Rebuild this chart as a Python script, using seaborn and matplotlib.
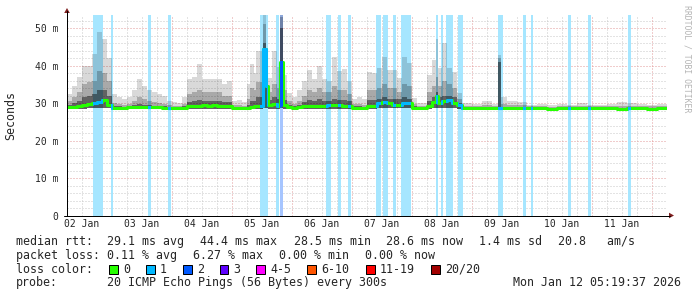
import matplotlib
matplotlib.use("Agg")
import matplotlib.pyplot as plt
from matplotlib.patches import Rectangle, Polygon
from matplotlib.lines import Line2D
import numpy as np
import pandas as pd
import seaborn as sns

# ---------------- data (time in hours since Jan 02 06:00, values in ms) ----------------
seg_start_h = [
    0, 2, 4, 6, 8, 10, 12, 14, 16, 18,
    20, 22, 24, 26, 28, 30, 32, 34, 36, 38,
    40, 42, 44, 46, 48, 50, 52, 54, 56, 58,
    60, 62, 64, 66, 68, 70, 72, 73.3, 74.7, 75.6,
    78.2, 79.4, 80.2, 82, 84, 85.2, 86.3, 88, 90, 92,
    94, 96, 98, 100, 102, 104, 106, 108, 110, 112,
    114, 116, 118, 120, 122, 124, 126, 128, 130, 132,
    134, 136, 138, 140, 144, 146, 147.5, 148.5, 150, 152,
    154, 156, 158, 162, 166, 170, 172.4, 173.7, 176, 180,
    184, 188, 192, 196, 200, 204, 208, 212, 216, 220,
    224, 228, 232, 236]
smoke_max = [
    32.5, 34.5, 37.0, 40.0, 40.0, 43.0, 49.0, 47.0, 42.0, 32.5,
    31.5, 31.0, 31.5, 33.5, 36.5, 34.5, 33.5, 33.0, 32.5, 31.8,
    30.5, 30.2, 30.0, 31.5, 36.5, 37.0, 40.5, 36.5, 36.5, 36.5,
    36.5, 35.0, 36.0, 30.5, 30.8, 30.2, 35.0, 40.5, 38.0, 44.0,
    57.0, 42.0, 36.6, 44.0, 39.5, 57.0, 37.5, 32.6, 31.5, 33.5,
    36.0, 38.8, 36.5, 40.0, 36.5, 36.0, 42.3, 38.5, 39.0, 36.0,
    31.0, 31.5, 31.0, 38.4, 38.0, 39.3, 42.4, 38.8, 38.8, 36.6,
    42.4, 40.6, 31.3, 30.0, 37.4, 41.5, 47.2, 39.3, 46.0, 39.3,
    38.4, 32.6, 30.0, 29.8, 30.6, 29.8, 42.8, 31.7, 30.5, 30.4,
    29.6, 29.8, 29.5, 29.8, 29.6, 29.9, 29.6, 29.6, 29.7, 30.2,
    30.0, 29.8, 29.6, 29.8]
smoke_mid = [
    30.5, 31.5, 33.0, 35.0, 35.5, 36.0, 38.5, 38.0, 36.0, 30.0,
    29.8, 29.6, 29.8, 30.5, 31.5, 31.0, 30.5, 30.3, 30.0, 29.8,
    29.4, 29.3, 29.2, 29.8, 32.5, 33.0, 33.5, 33.0, 33.0, 33.0,
    33.0, 32.0, 32.0, 29.4, 29.5, 29.3, 31.0, 34.0, 33.5, 35.5,
    51.0, 38.0, 33.0, 35.0, 34.0, 53.0, 33.5, 30.5, 29.8, 30.5,
    32.0, 33.5, 33.0, 34.0, 33.0, 33.0, 34.5, 33.5, 33.5, 32.5,
    29.8, 29.8, 29.6, 33.5, 33.5, 34.0, 35.0, 34.0, 34.0, 33.0,
    35.0, 34.5, 29.8, 29.3, 33.0, 34.5, 37.0, 34.5, 36.0, 35.0,
    34.0, 31.0, 29.3, 29.2, 29.4, 29.2, 42.0, 29.8, 29.4, 29.4,
    29.1, 29.2, 29.0, 29.2, 29.1, 29.2, 29.1, 29.1, 29.1, 29.3,
    29.2, 29.2, 29.1, 29.1]
smoke_dark = [
    29.6, 30.0, 30.5, 31.5, 32.0, 32.5, 33.5, 33.5, 32.0, 29.2,
    29.1, 29.0, 29.1, 29.4, 29.8, 29.6, 29.4, 29.3, 29.2, 29.1,
    29.0, 28.9, 28.9, 29.1, 30.3, 30.5, 30.8, 30.6, 30.6, 30.6,
    30.5, 30.2, 30.2, 29.0, 29.0, 28.9, 29.5, 30.5, 30.5, 31.5,
    46.0, 36.0, 30.8, 31.5, 31.0, 50.0, 30.8, 29.4, 29.1, 29.5,
    30.2, 30.8, 30.5, 31.0, 30.6, 30.6, 31.0, 30.8, 30.8, 30.5,
    29.1, 29.1, 29.0, 30.8, 30.8, 31.2, 31.5, 31.2, 31.2, 31.0,
    31.5, 31.2, 29.1, 28.9, 30.5, 31.5, 33.0, 31.5, 32.0, 32.0,
    31.5, 30.0, 28.9, 28.9, 28.9, 28.9, 41.0, 29.0, 28.9, 28.9,
    28.8, 28.8, 28.7, 28.8, 28.8, 28.8, 28.8, 28.8, 28.8, 28.8,
    28.8, 28.8, 28.8, 28.8]
smoke_min = [
    28.4, 28.4, 28.4, 28.5, 28.6, 28.7, 28.8, 28.8, 28.6, 28.4,
    28.4, 28.4, 28.4, 28.4, 28.4, 28.4, 28.4, 28.4, 28.4, 28.4,
    28.4, 28.4, 28.4, 28.4, 28.5, 28.5, 28.5, 28.5, 28.5, 28.5,
    28.5, 28.5, 28.5, 28.4, 28.4, 28.4, 28.4, 28.5, 28.5, 28.5,
    28.6, 28.6, 28.5, 28.5, 28.5, 28.6, 28.5, 28.4, 28.4, 28.4,
    28.4, 28.5, 28.5, 28.5, 28.5, 28.5, 28.5, 28.5, 28.5, 28.5,
    28.4, 28.4, 28.4, 28.5, 28.5, 28.6, 28.6, 28.6, 28.6, 28.6,
    28.6, 28.6, 28.4, 28.4, 28.5, 28.6, 28.7, 28.6, 28.7, 28.7,
    28.6, 28.5, 28.4, 28.4, 28.4, 28.4, 28.4, 28.4, 28.3, 28.3,
    28.3, 28.3, 28.2, 28.3, 28.3, 28.3, 28.3, 28.3, 28.3, 28.2,
    28.3, 28.3, 28.3, 28.3]
median_ms = [
    29.0, 29.0, 29.1, 29.4, 29.7, 30.0, 30.2, 30.9, 29.5, 28.8,
    28.8, 28.8, 28.9, 28.9, 29.0, 29.0, 28.9, 28.9, 28.9, 28.8,
    28.8, 28.7, 28.7, 28.8, 29.1, 29.2, 29.3, 29.4, 29.3, 29.4,
    29.3, 29.2, 29.2, 28.7, 28.7, 28.7, 28.8, 29.0, 29.1, 29.3,
    44.4, 34.5, 29.4, 29.8, 29.3, 41.0, 29.6, 29.0, 28.7, 28.9,
    29.1, 29.2, 29.2, 29.3, 29.3, 29.5, 29.6, 29.5, 29.3, 29.2,
    28.8, 28.7, 28.7, 29.1, 29.2, 29.9, 30.4, 30.0, 29.6, 29.5,
    30.0, 29.9, 28.8, 28.7, 29.3, 30.4, 31.8, 29.9, 30.6, 30.8,
    29.9, 29.4, 28.7, 28.7, 28.7, 28.7, 28.8, 28.7, 28.6, 28.6,
    28.6, 28.6, 28.5, 28.6, 28.6, 28.6, 28.6, 28.6, 28.6, 28.5,
    28.6, 28.6, 28.5, 28.6]
T_END = 240

loss_start_h = [10.4, 17.6, 32.4, 40.4, 77.3, 83.7, 85.2, 103.6, 108.3, 112.3,
                123.6, 126.4, 130.4, 133.6, 147.6, 149.6, 151.6, 156.4, 172.4,
                182.4, 185.6, 200.4, 208.4, 224.4]
loss_end_h = [14.4, 18.4, 33.6, 41.6, 80.3, 84.7, 86.3, 105.6, 109.6, 113.6,
              125.6, 128.4, 131.6, 137.6, 148.4, 150.4, 154.4, 158.4, 174.4,
              183.6, 186.4, 201.6, 209.6, 225.6]
loss_level = [1, 1, 1, 1, 1, 1, 2, 1, 1, 1,
              1, 1, 1, 1, 1, 1, 1, 1, 1,
              1, 1, 1, 1, 1]

day_labels = ["02 Jan", "03 Jan", "04 Jan", "05 Jan", "06 Jan",
              "07 Jan", "08 Jan", "09 Jan", "10 Jan", "11 Jan"]
day_label_h = [6, 30, 54, 78, 102, 126, 150, 174, 198, 222]
midnight_h = [18, 42, 66, 90, 114, 138, 162, 186, 210, 234]
y_ticks = [0, 10, 20, 30, 40, 50]
y_tick_labels = ["0", "10 m", "20 m", "30 m", "40 m", "50 m"]
Y_TOP = 53.5

legend_labels = ["0", "1", "2", "3", "4-5", "6-10", "11-19", "20/20"]
legend_colors = ["#26ff00", "#00b8ff", "#0059ff", "#5e00ff",
                 "#ff00ff", "#ff5500", "#ff0000", "#a10000"]
loss_bg = {1: "#a6e6ff", 2: "#a6c5ff"}

stats1 = ["median rtt:  29.1 ms avg", "44.4 ms max", "28.5 ms min",
          "28.6 ms now", "1.4 ms sd", "20.8   am/s"]
stats2 = ["packet loss: 0.11 % avg", "6.27 % max", "0.00 % min", "0.00 % now"]
probe_text = "20 ICMP Echo Pings (56 Bytes) every 300s"
stamp_text = "Mon Jan 12 05:19:37 2026"

# ---------------- style ----------------
sns.set_style("white")
plt.rcParams['font.family'] = ['DejaVu Sans Mono']

W, H = 697, 297
fig = plt.figure(figsize=(W / 100, H / 100), dpi=100)
fig.patch.set_facecolor("white")


def fx(px):
    return px / W


def fy(py):
    return 1 - py / H


PX = 0.72  # one pixel in points
GRID_MINOR = "#c8c8c8"
GRID_MAJOR = "#e29a9a"
X0, X1, YB, YT = 67, 667, 215.5, 15
ax = fig.add_axes([fx(X0), fy(YB), (X1 - X0) / W, (YB - YT) / H])
ax.set_xlim(0, T_END)
ax.set_ylim(0, Y_TOP)
for s in ax.spines.values():
    s.set_visible(False)
ax.set_facecolor("white")

# grid
for h in np.arange(0, T_END + 0.1, 6):
    if h in midnight_h:
        continue
    ax.axvline(h, color=GRID_MINOR, lw=PX, ls=(0, (1, 2)), zorder=1)
for h in midnight_h:
    ax.axvline(h, color=GRID_MAJOR, lw=PX, ls=(0, (1, 2)), zorder=1.1)
for v in np.arange(2, Y_TOP, 2):
    col = GRID_MAJOR if v % 10 == 0 else GRID_MINOR
    ax.axhline(v, color=col, lw=PX, ls=(0, (1, 2)), zorder=1.1 if v % 10 == 0 else 1)

# loss background bars
for s, e, lv in zip(loss_start_h, loss_end_h, loss_level):
    ax.axvspan(s, e, facecolor=loss_bg[lv], lw=0, zorder=2)

# smoke
t = np.array(seg_start_h + [T_END], dtype=float)


def ext(a):
    return np.array(a + [a[-1]], dtype=float)


lo = ext(smoke_min)
ax.fill_between(t, lo, ext(smoke_max), step="post", color="black", alpha=0.15, lw=0, zorder=3)
ax.fill_between(t, lo, ext(smoke_mid), step="post", color="black", alpha=0.22, lw=0, zorder=3.1)
ax.fill_between(t, lo, ext(smoke_dark), step="post", color="black", alpha=0.42, lw=0, zorder=3.2)

# median line
df = pd.DataFrame({"t": t, "median": ext(median_ms)})
sns.lineplot(data=df, x="t", y="median", drawstyle="steps-post", color=legend_colors[0],
             lw=2.2, estimator=None, sort=False, ax=ax, zorder=5)
for s, e, lv in zip(loss_start_h, loss_end_h, loss_level):
    ln, = ax.step(t, ext(median_ms), where="post", color=legend_colors[lv], lw=2.2, zorder=6)
    clip = Rectangle((s, -10), e - s, 100, transform=ax.transData)
    ln.set_clip_path(clip)
ax.set_xlabel("")
ax.set_ylabel("")

# ticks
ax.set_xticks(day_label_h)
ax.set_xticklabels(day_labels, fontsize=7)
ax.set_xticks(np.arange(0, T_END + 0.1, 6), minor=True)
ax.tick_params(axis="x", which="major", length=0, pad=2.5)
ax.tick_params(axis="x", which="minor", length=2, width=PX, color=GRID_MINOR)
ax.set_yticks(y_ticks)
ax.set_yticklabels(y_tick_labels, fontsize=7)
ax.set_yticks(np.arange(0, Y_TOP, 2), minor=True)
ax.tick_params(axis="y", which="major", length=2, width=PX, color=GRID_MAJOR, pad=4.3)
ax.tick_params(axis="y", which="minor", length=2, width=PX, color=GRID_MINOR)

# axis lines and arrows
fig.add_artist(Line2D([fx(67), fx(67)], [fy(YB), fy(11)], color="black", lw=PX))
fig.add_artist(Line2D([fx(64), fx(670)], [fy(YB), fy(YB)], color="black", lw=PX))
ARROW = "#7f1f1f"
fig.add_artist(Polygon([(fx(64.2), fy(13)), (fx(69.8), fy(13)), (fx(67), fy(8))],
                       closed=True, transform=fig.transFigure, color=ARROW, lw=0))
fig.add_artist(Polygon([(fx(669), fy(212.7)), (fx(669), fy(218.3)), (fx(674), fy(215.5))],
                       closed=True, transform=fig.transFigure, color=ARROW, lw=0))

# labels
FS = 8.4
fig.text(fx(11), fy(115), "Seconds", rotation=90, ha="center", va="center", fontsize=FS)
fig.text(fx(687), fy(5), "RRDTOOL / TOBI OETIKER", rotation=-90, ha="center", va="top",
         fontsize=5.9, color="#b4b4b4")

# legend / stats lines
for txt, x in zip(stats1, [16, 200, 293.5, 386, 479, 558]):
    fig.text(fx(x), fy(245), txt, fontsize=FS, va="baseline", ha="left")
for txt, x in zip(stats2, [16, 193, 279, 365]):
    fig.text(fx(x), fy(258.8), txt, fontsize=FS, va="baseline", ha="left")
fig.text(fx(16), fy(272.6), "loss color:", fontsize=FS, va="baseline", ha="left")
for lab, col, bx in zip(legend_labels, legend_colors, [109, 146, 183, 219.5, 256, 307, 366, 431]):
    fig.add_artist(Rectangle((fx(bx), fy(273.5)), 8.5 / W, 9 / H, transform=fig.transFigure,
                             facecolor=col, edgecolor="black", lw=PX))
    fig.text(fx(bx + 14), fy(272.6), lab, fontsize=FS, va="baseline", ha="left")
fig.text(fx(16), fy(286.4), "probe:", fontsize=FS, va="baseline", ha="left")
fig.text(fx(107), fy(286.4), probe_text, fontsize=FS, va="baseline", ha="left")
fig.text(fx(513), fy(286.4), stamp_text, fontsize=FS, va="baseline", ha="left")

fig.savefig("out.png", dpi=100, facecolor="white")
